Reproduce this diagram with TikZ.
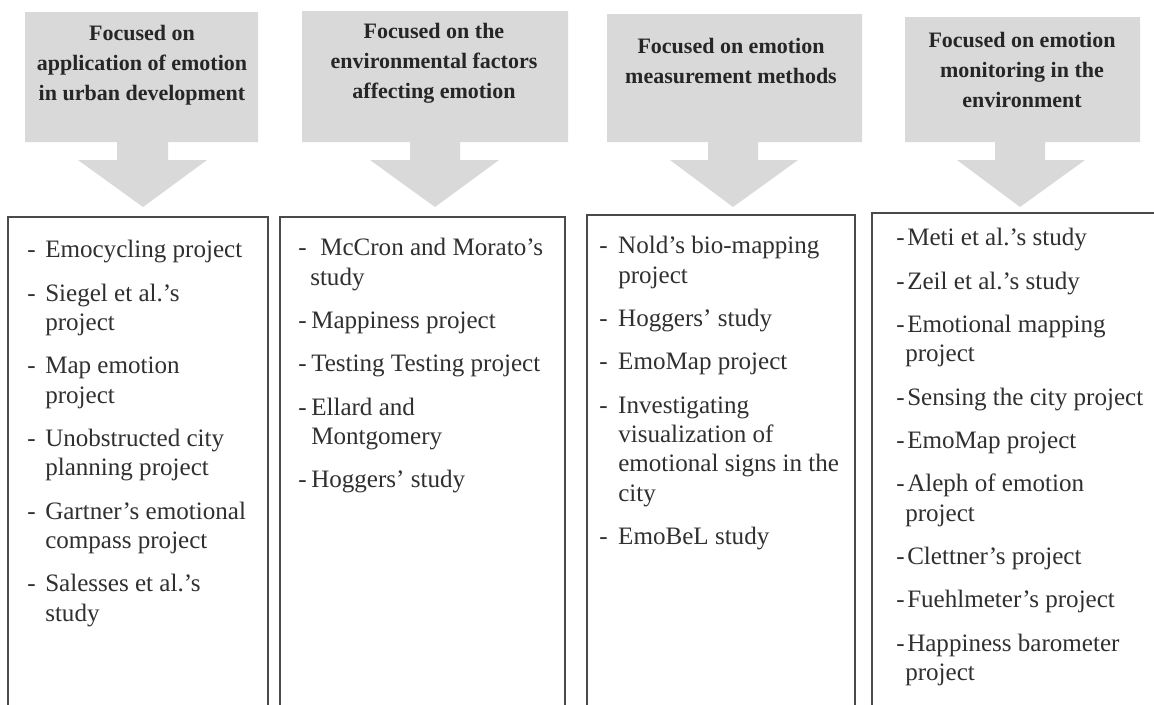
\documentclass[tikz,border=0pt]{standalone}
\usepackage{fontspec}
\setmainfont{Liberation Serif}
\definecolor{shade}{HTML}{D9D9D9}
\definecolor{hdrtext}{HTML}{262626}
\definecolor{bodytext}{HTML}{303030}
\definecolor{boxline}{HTML}{4A4A4A}
\newcommand{\dsh}[1]{\makebox[#1][l]{-}}
\newcommand{\ind}[1]{\hspace*{#1}}
\begin{document}
\begin{tikzpicture}[x=0.75pt,y=-0.75pt,
  arrowshape/.style={fill=shade,draw=none},
  hdr/.style={font=\bfseries\fontsize{16.5pt}{22.5pt}\selectfont,text=hdrtext,align=center,inner sep=0pt,anchor=north},
  items/.style={font=\fontsize{18.8pt}{22pt}\selectfont,text=bodytext,align=left,inner sep=0pt,anchor=north west},
  listbox/.style={draw=boxline,line width=1.4pt}]
\useasboundingbox (0,0) rectangle (1154,704);
\clip (0,0) rectangle (1154,704);
\fill[white] (0,0) rectangle (1154,704);

% gray arrow shapes
\fill[arrowshape] (25,12) -- (258,12) -- (258,142) -- (168,142) -- (168,160) -- (207,160) -- (143,207) -- (78,160) -- (117,160) -- (117,142) -- (25,142) -- cycle;
\fill[arrowshape] (302,11) -- (568,11) -- (568,142) -- (460,142) -- (460,160) -- (499,160) -- (435,207) -- (370,160) -- (410,160) -- (410,142) -- (302,142) -- cycle;
\fill[arrowshape] (607,14) -- (862,14) -- (862,142) -- (758,142) -- (758,160) -- (798,160) -- (733,207) -- (670,160) -- (708,160) -- (708,142) -- (607,142) -- cycle;
\fill[arrowshape] (905,17) -- (1140,17) -- (1140,142) -- (1045,142) -- (1045,160) -- (1085,160) -- (1020,207) -- (957,160) -- (995,160) -- (995,142) -- (905,142) -- cycle;

% headers
\node[hdr] (h1) at (142,25) {Focused on\\application of emotion\\in urban development};
\node[hdr] (h2) at (434,23) {Focused on the\\environmental factors\\affecting emotion};
\node[hdr] (h3) at (731,38) {Focused on emotion\\measurement methods};
\node[hdr] (h4) at (1022,32) {Focused on emotion\\monitoring in the\\environment};

% list boxes
\draw[listbox] (8,217) rectangle (268,720);
\draw[listbox] (280,217) rectangle (565,720);
\draw[listbox] (587,215) rectangle (855,720);
\draw[listbox] (872,213) rectangle (1175,720);

% lists
\node[items] (l1) at (27,240) {%
\dsh{13.5pt}Emocycling project\\[10.5pt]
\dsh{13.5pt}Siegel et al.’s\\
\ind{13.5pt}project\\[10.5pt]
\dsh{13.5pt}Map emotion\\
\ind{13.5pt}project\\[10.5pt]
\dsh{13.5pt}Unobstructed city\\
\ind{13.5pt}planning project\\[10.5pt]
\dsh{13.5pt}Gartner’s emotional\\
\ind{13.5pt}compass project\\[10.5pt]
\dsh{13.5pt}Salesses et al.’s\\
\ind{13.5pt}study};

\node[items] (l2) at (298,238) {%
\dsh{16.5pt}McCron and Morato’s\\
\ind{9pt}study\\[10.5pt]
\dsh{9.75pt}Mappiness project\\[10.5pt]
\dsh{9.75pt}Testing Testing project\\[10.5pt]
\dsh{9.75pt}Ellard and\\
\ind{9.75pt}Montgomery\\[10.5pt]
\dsh{9.75pt}Hoggers’ study};

\node[items] (l3) at (599,236) {%
\dsh{14.25pt}Nold’s bio-mapping\\
\ind{14.25pt}project\\[10.5pt]
\dsh{14.25pt}Hoggers’ study\\[10.5pt]
\dsh{14.25pt}EmoMap project\\[10.5pt]
\dsh{14.25pt}Investigating\\
\ind{14.25pt}visualization of\\
\ind{14.25pt}emotional signs in the\\
\ind{14.25pt}city\\[10.5pt]
\dsh{14.25pt}EmoBeL study};

\node[items] (l4) at (896,228) {%
\dsh{8.25pt}Meti et al.’s study\\[10.5pt]
\dsh{8.25pt}Zeil et al.’s study\\[10.5pt]
\dsh{8.25pt}Emotional mapping\\
\ind{6.75pt}project\\[10.5pt]
\dsh{8.25pt}Sensing the city project\\[10.5pt]
\dsh{8.25pt}EmoMap project\\[10.5pt]
\dsh{8.25pt}Aleph of emotion\\
\ind{6.75pt}project\\[10.5pt]
\dsh{8.25pt}Clettner’s project\\[10.5pt]
\dsh{8.25pt}Fuehlmeter’s project\\[10.5pt]
\dsh{8.25pt}Happiness barometer\\
\ind{6.75pt}project};
\end{tikzpicture}
\end{document}
